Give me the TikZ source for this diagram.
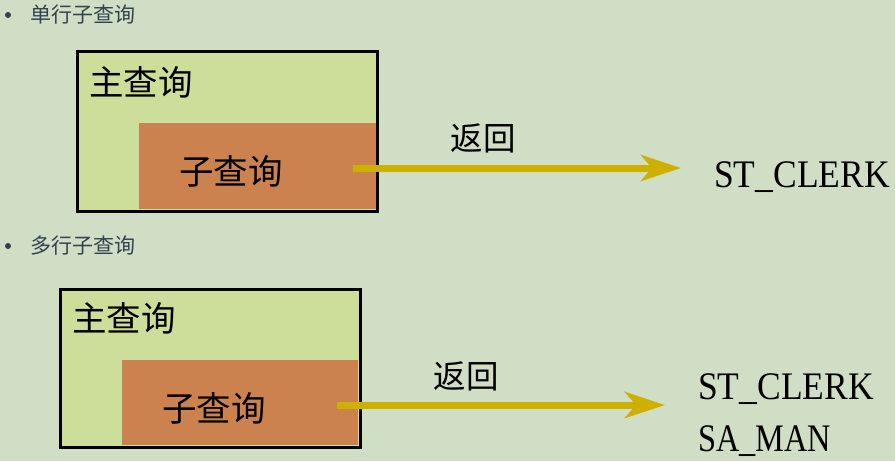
\documentclass[tikz,border=0pt]{standalone}
\usepackage{fontspec}
\setmainfont{Liberation Serif}
\newfontfamily\cjk{Noto Sans CJK SC}
\usetikzlibrary{arrows.meta}
\definecolor{bgc}{RGB}{207,222,196}
\definecolor{maincol}{RGB}{205,222,154}
\definecolor{subcol}{RGB}{204,130,78}
\definecolor{arrowcol}{RGB}{205,176,0}
\definecolor{bulletcol}{RGB}{52,66,80}
\tikzset{
  mainbox/.style={fill=maincol, inner sep=0pt, minimum width=300pt, anchor=north west},
  subbox/.style={fill=subcol, inner sep=0pt, anchor=south east},
  boxlabel/.style={inner sep=0pt, font=\cjk\fontsize{34.5}{38}\selectfont},
  retlabel/.style={inner sep=0pt, font=\cjk\fontsize{32.5}{36}\selectfont},
  bullettext/.style={inner sep=0pt, anchor=west, text=bulletcol, font=\cjk\fontsize{21}{25}\selectfont},
  bulletdot/.style={circle, fill=bulletcol, inner sep=0pt, minimum size=6pt},
  result/.style={inner sep=0pt, anchor=base west, font=\fontsize{39}{44}\selectfont},
  retarrow/.style={draw=arrowcol, line width=7pt, -{Stealth[length=40pt, width=26pt, inset=11pt, fill=arrowcol]}},
  frame/.style={draw=black, line width=3pt}
}
\begin{document}
\begin{tikzpicture}[x=1pt, y=-1pt]
\fill[bgc] (0,0) rectangle (895,461);
\useasboundingbox (0,0) rectangle (895,461);

% ---- single-row subquery ----
\node[bulletdot] (b1) at (8,15) {};
\node[bullettext] (t1) at (30,15) {单行子查询};

\node[mainbox, minimum height=160pt] (main1) at (77,51) {};
\node[subbox, minimum width=237pt, minimum height=86pt] (sub1) at (376,209) {};
\draw[frame] (main1.north west) rectangle (main1.south east);
\node[boxlabel] (ml1) at (141,82) {主查询};
\node[boxlabel] (sl1) at (231,171) {子查询};
\node[retlabel] (r1) at (483,138) {返回};
\coordinate (s1) at (353,168);
\coordinate (e1) at (681,168);
\draw[retarrow] (s1) -- (e1);
\node[result] (res1) at (714,187) {\scalebox{0.91}[1]{ST\_CLERK}};

% ---- multi-row subquery ----
\node[bulletdot] (b2) at (8,246) {};
\node[bullettext] (t2) at (30,246) {多行子查询};

\node[mainbox, minimum height=158pt] (main2) at (60,289) {};
\node[subbox, minimum width=236pt, minimum height=85pt] (sub2) at (358,445) {};
\draw[frame] (main2.north west) rectangle (main2.south east);
\node[boxlabel] (ml2) at (124,318) {主查询};
\node[boxlabel] (sl2) at (214,408) {子查询};
\node[retlabel] (r2) at (466,376) {返回};
\coordinate (s2) at (337,405);
\coordinate (e2) at (665,405);
\draw[retarrow] (s2) -- (e2);
\node[result] (res2) at (698,399) {\scalebox{0.91}[1]{ST\_CLERK}};
\node[result] (res3) at (698,451) {\scalebox{0.83}[1]{SA\_MAN}};
\end{tikzpicture}
\end{document}
